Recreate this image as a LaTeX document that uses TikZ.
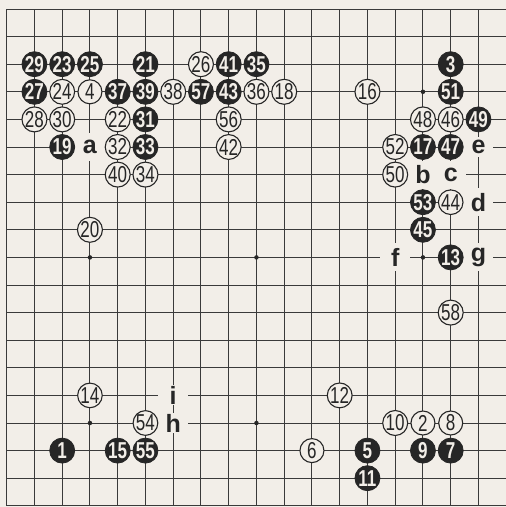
\documentclass[tikz,border=0pt]{standalone}
\usepackage{fontspec}
\newfontfamily\numfont[FakeStretch=0.74]{Liberation Sans}
\newfontfamily\lblfont{Liberation Sans}
\definecolor{paper}{HTML}{F2EEE8}
\definecolor{ink}{HTML}{262626}
\definecolor{gridc}{HTML}{3A3A3A}
\tikzset{
  gridline/.style={draw=gridc, line width=1pt},
  starpt/.style={circle, fill=ink, inner sep=0pt, minimum size=4.5pt},
  bstone/.style={circle, fill=ink, draw=ink, line width=0.8pt, inner sep=0pt, minimum size=25pt,
    text=paper, font=\numfont\bfseries\fontsize{23}{23}\selectfont},
  wstone/.style={circle, fill=paper, draw=ink, line width=1.1pt, inner sep=0pt, minimum size=24pt,
    text=ink, font=\numfont\fontsize{23}{23}\selectfont},
  lbl/.style={rectangle, fill=paper, inner sep=0pt, minimum width=30pt, minimum height=28pt,
    text=ink, font=\lblfont\bfseries\fontsize{25}{25}\selectfont},
  lblshort/.style={lbl, minimum height=20pt}
}
\begin{document}
\begin{tikzpicture}[x=1pt,y=-1pt]
\useasboundingbox (0,0) rectangle (506,507);
\fill[paper] (0,0) rectangle (506,507);
\begin{scope}
\clip (0,0) rectangle (506,507);
\foreach \k in {0,...,18} {
  \draw[gridline] (6.7+27.75*\k, 9) -- (6.7+27.75*\k, 505.8);
  \draw[gridline] (6.7, 9+27.6*\k) -- (506.2, 9+27.6*\k);
}
\end{scope}
\foreach \c/\r [count=\i] in {15/3, 3/9, 9/9, 15/9, 3/15, 9/15}
  \node[starpt] (star\i) at (6.7+27.75*\c, 9+27.6*\r) {};
\foreach \c/\r/\t in {3/5/a, 15/6/b, 16/6/c, 17/7/d, 14/9/f, 17/9/g}
  \node[lbl] (l\t) at (6.7+27.75*\c, 9+27.6*\r) {\t};
\foreach \c/\r/\t in {17/5/e, 6/15/h, 6/14/i}
  \node[lblshort] (l\t) at (6.7+27.75*\c, 9+27.6*\r) {\t};
\foreach \c/\r/\n in {1/2/29, 2/2/23, 3/2/25, 5/2/21, 8/2/41, 9/2/35,
  1/3/27, 4/3/37, 5/3/39, 7/3/57, 8/3/43, 5/4/31, 2/5/19, 5/5/33,
  16/2/3, 16/3/51, 17/4/49, 15/5/17, 16/5/47, 15/7/53, 15/8/45, 16/9/13,
  2/16/1, 4/16/15, 5/16/55, 13/16/5, 15/16/9, 16/16/7, 13/17/11}
  \node[bstone] (s\n) at (6.7+27.75*\c, 9+27.6*\r) {\n};
\foreach \c/\r/\n in {7/2/26, 2/3/24, 3/3/4, 6/3/38, 9/3/36, 10/3/18, 13/3/16,
  1/4/28, 2/4/30, 4/4/22, 8/4/56, 4/5/32, 8/5/42, 4/6/40, 5/6/34, 3/8/20,
  15/4/48, 16/4/46, 14/5/52, 14/6/50, 16/7/44, 16/11/58,
  3/14/14, 5/15/54, 12/14/12, 14/15/10, 15/15/2, 16/15/8, 11/16/6}
  \node[wstone] (s\n) at (6.7+27.75*\c, 9+27.6*\r) {\n};
\end{tikzpicture}
\end{document}
